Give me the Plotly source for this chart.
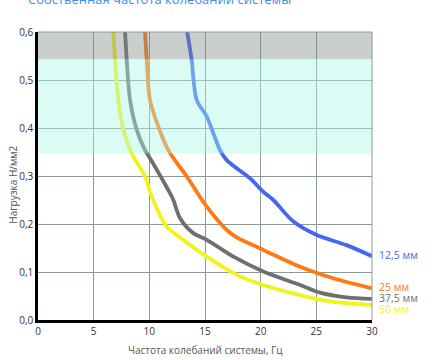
import plotly.graph_objects as go

# Data
series_names = ["12,5 мм", "25 мм", "37,5 мм", "50 мм"]
series_colors = ["#4466f0", "#ff7a12", "#6f6f6f", "#f2f21c"]

x_125 = [13.4, 13.8, 14.26, 15.16, 15.75, 16.35, 16.95, 19.05, 20.24, 21.14, 22.94, 25.04, 27.7, 30]
y_125 = [0.6, 0.542, 0.458, 0.424, 0.389, 0.354, 0.333, 0.295, 0.267, 0.25, 0.205, 0.177, 0.156, 0.133]

x_25 = [9.61, 9.77, 10.06, 10.81, 11.7, 13.36, 15.16, 16.95, 17.85, 20.24, 23.54, 26.53, 30]
y_25 = [0.6, 0.542, 0.458, 0.403, 0.354, 0.299, 0.236, 0.1875, 0.172, 0.146, 0.111, 0.087, 0.066]

x_375 = [7.82, 7.97, 8.27, 8.87, 9.61, 10.06, 11.86, 12.16, 12.76, 13.95, 15.16, 17.55, 20.24, 23.54, 25.34, 27.7, 30]
y_375 = [0.6, 0.542, 0.458, 0.396, 0.354, 0.337, 0.264, 0.25, 0.212, 0.181, 0.167, 0.132, 0.101, 0.073, 0.057, 0.047, 0.044]

x_50 = [6.77, 6.92, 7.22, 7.67, 8.42, 9.61, 10.06, 10.66, 11.56, 12.76, 15.16, 17.85, 20.24, 23.54, 25.94, 30]
y_50 = [0.6, 0.542, 0.458, 0.396, 0.347, 0.299, 0.267, 0.233, 0.194, 0.172, 0.132, 0.094, 0.073, 0.052, 0.040, 0.031]

label_y = [0.135, 0.069, 0.046, 0.022]

gray_band = [0.543, 0.6]
cyan_band = [0.347, 0.543]

xs = [x_125, x_25, x_375, x_50]
ys = [y_125, y_25, y_375, y_50]

fig = go.Figure()
for name, c, x, y in zip(series_names, series_colors, xs, ys):
    fig.add_trace(go.Scatter(x=x, y=y, mode="lines", name=name,
                             line=dict(color=c, width=3.8, shape="spline", smoothing=0.9),
                             showlegend=False, hoverinfo="skip"))

for name, c, ly in zip(series_names, series_colors, label_y):
    fig.add_annotation(x=30, y=ly, xref="x", yref="y", text=name, showarrow=False,
                       xanchor="left", xshift=5, font=dict(color=c, size=10.5, family="Open Sans"))

fig.add_shape(type="rect", xref="paper", x0=0, x1=1, yref="y", y0=gray_band[0], y1=gray_band[1],
              fillcolor="rgba(117,135,130,0.4)", line=dict(width=0), layer="above")
fig.add_shape(type="rect", xref="paper", x0=0, x1=1, yref="y", y0=cyan_band[0], y1=cyan_band[1],
              fillcolor="rgba(170,247,232,0.42)", line=dict(width=0), layer="above")
# top and right borders
fig.add_shape(type="line", xref="paper", x0=0, x1=1, yref="paper", y0=1, y1=1,
              line=dict(color="#8c9a98", width=1))
fig.add_shape(type="line", xref="paper", x0=1, x1=1, yref="paper", y0=0, y1=1,
              line=dict(color="#8c9a98", width=1))

fig.add_annotation(text="Собственная частота колебаний системы", xref="paper", yref="paper",
                   x=0, xshift=-12, y=1, xanchor="left", yanchor="middle", yshift=33, showarrow=False,
                   font=dict(color="#3a8ee6", size=13, family="Open Sans"))
fig.add_annotation(text="Частота колебаний системы, Гц", xref="paper", yref="paper",
                   x=0.5, y=0, yshift=-30, xanchor="center", yanchor="middle", showarrow=False,
                   font=dict(color="#555555", size=10, family="Open Sans"))
fig.add_annotation(text="Нагрузка Н/мм2", xref="paper", yref="paper", textangle=-90,
                   x=0, xshift=-25, y=0.47, xanchor="center", yanchor="middle", showarrow=False,
                   font=dict(color="#555555", size=10, family="Open Sans"))

fig.update_layout(
    width=440, height=360,
    margin=dict(l=38, r=68, t=32, b=40),
    paper_bgcolor="white", plot_bgcolor="white",
    separators=", ",
    font=dict(family="Open Sans", size=10, color="#333333"),
)
fig.update_xaxes(range=[0, 30], dtick=5, tick0=0, showgrid=True, gridcolor="#8c9a98", gridwidth=1,
                 zeroline=False, showline=True, linecolor="black", linewidth=2.5,
                 ticks="", tickfont=dict(size=10, color="#333333"), fixedrange=True)
fig.update_yaxes(range=[0, 0.6], dtick=0.1, tick0=0, tickformat=".1f", showgrid=True,
                 gridcolor="#8c9a98", gridwidth=1, zeroline=False, showline=True,
                 linecolor="black", linewidth=2.5, ticks="", tickfont=dict(size=10, color="#333333"),
                 fixedrange=True)

fig.write_html("out.html", config={"displayModeBar": False},
               post_script="document.body.style.margin='0';document.body.style.overflow='hidden';")
